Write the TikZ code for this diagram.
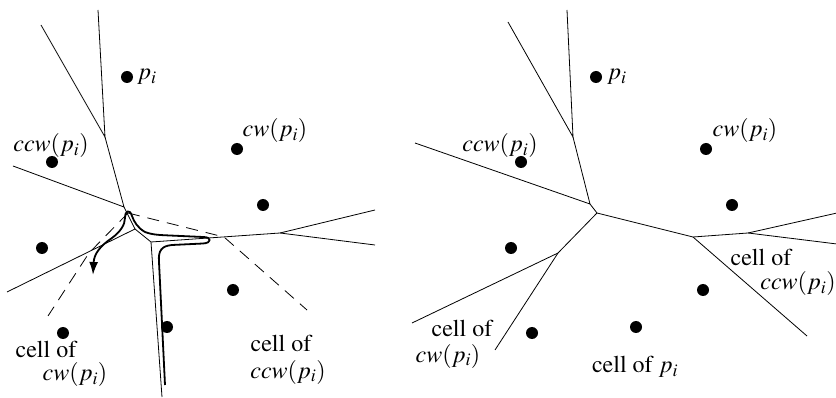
\documentclass[tikz,border=0pt]{standalone}
\usepackage[T1]{fontenc}
\usepackage{mathptmx}
\usetikzlibrary{arrows.meta}
\begin{document}
\begin{tikzpicture}[x=1pt,y=-1pt,
  edge/.style={line width=0.8pt},
  newedge/.style={line width=0.8pt,dash pattern=on 12pt off 8pt},
  walk/.style={line width=1.8pt,line join=round,-{Latex[length=13pt,width=9pt]}},
  site/.style={circle,fill,inner sep=0pt,minimum size=12pt},
  lbl/.style={inner sep=0pt,font=\fontsize{24}{28}\selectfont}]
\useasboundingbox (0,0) rectangle (836,398);

% ---------- left panel ----------
\coordinate (LA) at (105,137);
\coordinate (LB) at (124,207);
\coordinate (LD) at (135,229);
\coordinate (LC) at (151,242);
\coordinate (LF) at (280,233);
\coordinate (LV) at (128,213);
\coordinate (LG) at (224,237);
\coordinate (LH) at (89,253);
\coordinate (La1) at (41,25);
\coordinate (La2) at (98,10);
\coordinate (Lb1) at (13,166);
\coordinate (Ld1) at (7,292);
\coordinate (Lc1) at (162,397);
\coordinate (Lf1) at (375,210);
\coordinate (Lf2) at (375,245);
\coordinate (Lg1) at (307,310);
\coordinate (Lh1) at (48,316);

\draw[edge] (La1) -- (LA) -- (La2);
\draw[edge] (LA) -- (LB) -- (Lb1);
\draw[edge] (LB) -- (LD) -- (Ld1);
\draw[edge] (LD) -- (LC) -- (Lc1);
\draw[edge] (LC) -- (LF) -- (Lf1);
\draw[edge] (LF) -- (Lf2);
\draw[newedge] (LV) -- (LG) -- (Lg1);
\draw[newedge] (LV) -- (LH) -- (Lh1);

\coordinate (Wstart) at (165,385);
\coordinate (Wend) at (93,275);
\draw[walk] (Wstart) -- (159,262) .. controls (158,250) and (162,246) .. (172,245)
  -- (203,243.5) .. controls (212,243) and (212,237) .. (203,237)
  -- (170,235.5) .. controls (160,235) and (153,235) .. (145,232)
  .. controls (138,228) and (134,222) .. (132,216)
  .. controls (130,209) and (125,210) .. (125,218)
  .. controls (125,225) and (120,232) .. (112,238)
  .. controls (100,246) and (94,254) .. (Wend);

\node[site] (ls1) at (127,77) {};
\node[site] (ls2) at (52,162) {};
\node[site] (ls3) at (237,149) {};
\node[site] (ls4) at (263,205) {};
\node[site] (ls5) at (42,248) {};
\node[site] (ls6) at (233,290) {};
\node[site] (ls7) at (167,327) {};
\node[site] (ls8) at (63,333) {};

\node[lbl] (lt1) at (147,77) {$p_i$};
\node[lbl] (lt2) at (51,146) {$ccw(p_i)$};
\node[lbl] (lt3) at (275,131) {$cw(p_i)$};
\node[lbl] (lt4) at (46,349) {cell of};
\node[lbl] (lt5) at (75,375) {$cw(p_i)$};
\node[lbl] (lt6) at (281,343) {cell of};
\node[lbl] (lt7) at (288,372) {$ccw(p_i)$};

% ---------- right panel ----------
\coordinate (RA) at (573,137);
\coordinate (RE1) at (590,204);
\coordinate (RE2) at (597,213);
\coordinate (RG) at (693,237);
\coordinate (RH) at (558,253);
\coordinate (RF) at (748,233);
\coordinate (Ra1) at (508,22);
\coordinate (Ra2) at (567,10);
\coordinate (Re1) at (415,143);
\coordinate (Rh1) at (412,323);
\coordinate (Rh2) at (495,350);
\coordinate (Rg1) at (807,336);
\coordinate (Rf1) at (837,213);
\coordinate (Rf2) at (837,244);

\draw[edge] (Ra1) -- (RA) -- (Ra2);
\draw[edge] (RA) -- (RE1) -- (Re1);
\draw[edge] (RE1) -- (RE2) -- (RG) -- (RF) -- (Rf1);
\draw[edge] (RF) -- (Rf2);
\draw[edge] (RG) -- (Rg1);
\draw[edge] (RE2) -- (RH) -- (Rh1);
\draw[edge] (RH) -- (Rh2);

\node[site] (rs1) at (596,77) {};
\node[site] (rs2) at (521,162) {};
\node[site] (rs3) at (706,149) {};
\node[site] (rs4) at (732,205) {};
\node[site] (rs5) at (511,248) {};
\node[site] (rs6) at (703,290) {};
\node[site] (rs7) at (636,327) {};
\node[site] (rs8) at (532,333) {};

\node[lbl] (rt1) at (617,77) {$p_i$};
\node[lbl] (rt2) at (500,146) {$ccw(p_i)$};
\node[lbl] (rt3) at (745,131) {$cw(p_i)$};
\node[lbl] (rt4) at (761,257) {cell of};
\node[lbl] (rt5) at (798,284) {$ccw(p_i)$};
\node[lbl] (rt6) at (462,328) {cell of};
\node[lbl] (rt7) at (448,356) {$cw(p_i)$};
\node[lbl] (rt8) at (635,367) {cell of $p_i$};
\end{tikzpicture}
\end{document}
